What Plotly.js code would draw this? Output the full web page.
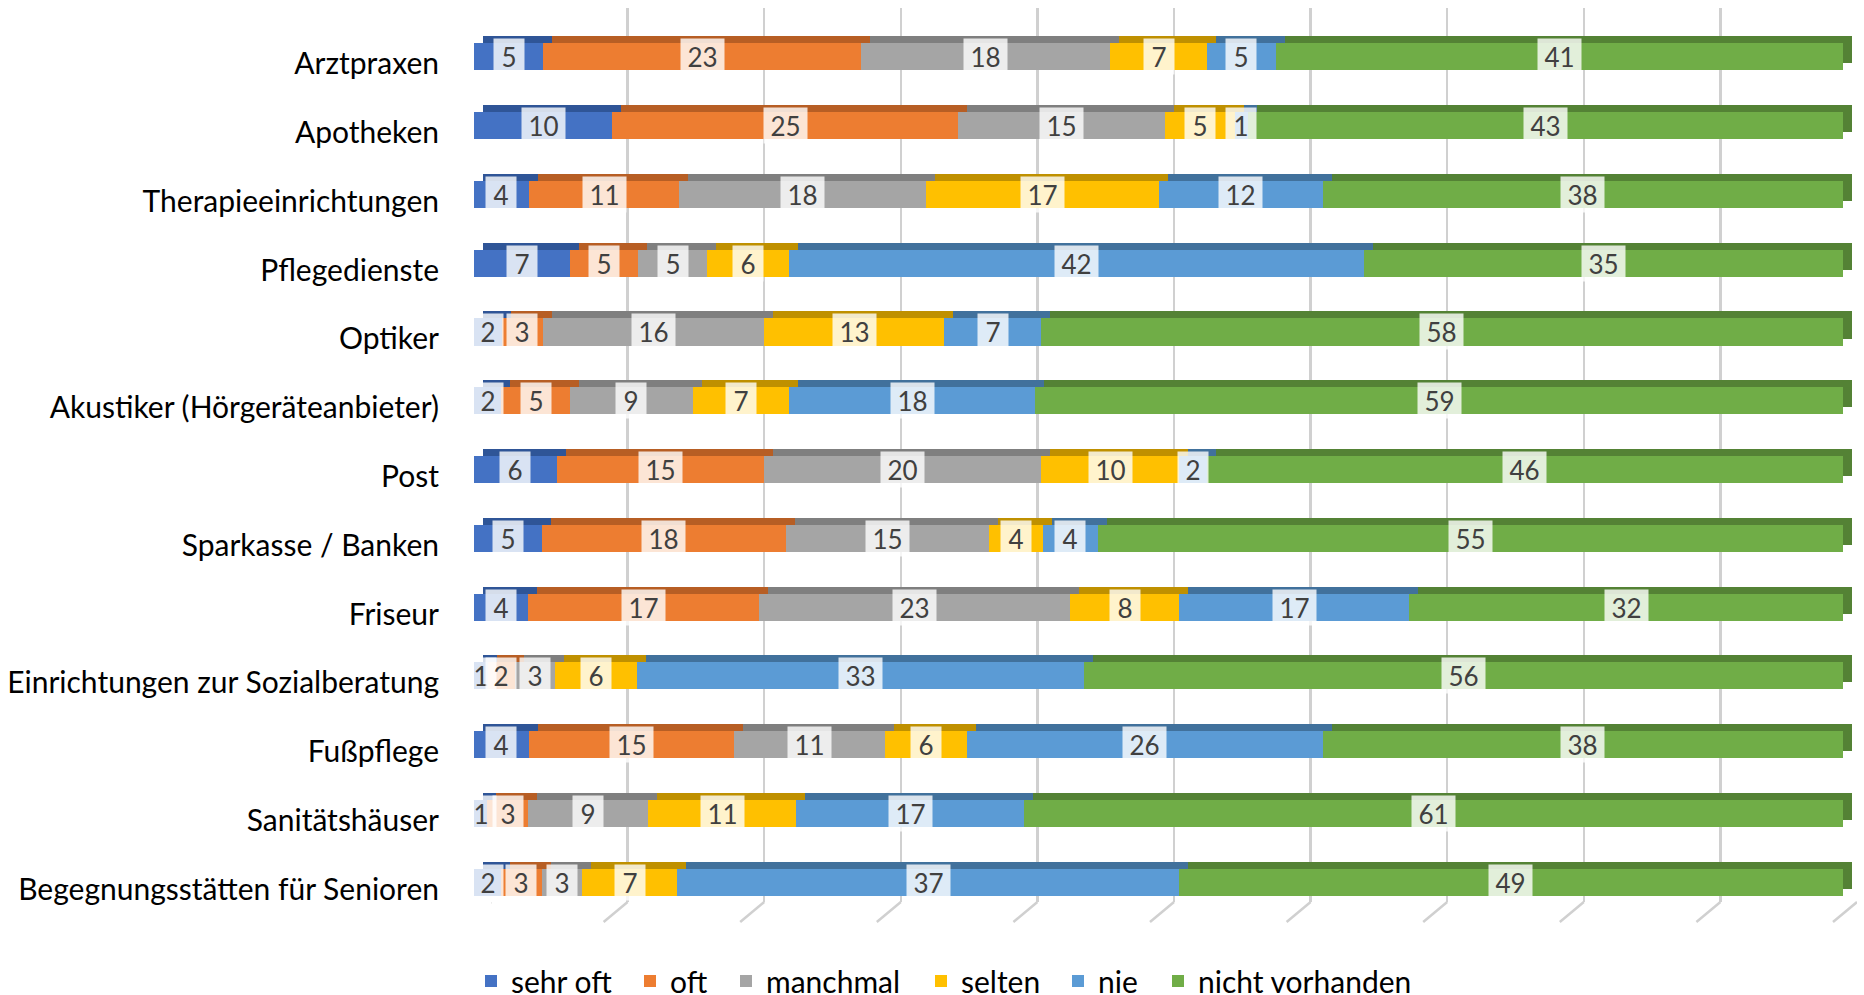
<!DOCTYPE html>
<html>
<head>
<meta charset="utf-8">
<script src="https://cdn.plot.ly/plotly-3.0.1.min.js"></script>
<style>html,body{margin:0;padding:0;background:#fff;overflow:hidden;}#chart{width:1864px;height:1012px;}</style>
</head>
<body>
<div id="chart"></div>
<script>
// ---- data ----
const categories = ["Arztpraxen","Apotheken","Therapieeinrichtungen","Pflegedienste","Optiker",
  "Akustiker (Hörgeräteanbieter)","Post","Sparkasse / Banken","Friseur",
  "Einrichtungen zur Sozialberatung","Fußpflege","Sanitätshäuser","Begegnungsstätten für Senioren"];
const seriesNames = ["sehr oft","oft","manchmal","selten","nie","nicht vorhanden"];
const sehrOft        = [5,10,4,7,2,2,6,5,4,1,4,1,2];
const oft            = [23,25,11,5,3,5,15,18,17,2,15,3,3];
const manchmal       = [18,15,18,5,16,9,20,15,23,3,11,9,3];
const selten         = [7,5,17,6,13,7,10,4,8,6,6,11,7];
const nie            = [5,1,12,42,7,18,2,4,17,33,26,17,37];
const nichtVorhanden = [41,43,38,35,58,59,46,55,32,56,38,61,49];
const gridTicks = [0,10,20,30,40,50,60,70,80,90,100];

// ---- styles ----
const seriesValues = [sehrOft, oft, manchmal, selten, nie, nichtVorhanden];
const frontColors = ["#4472C4","#ED7D31","#A5A5A5","#FFC000","#5B9BD5","#70AD47"];
const topColors   = ["#2F5597","#B75E24","#7F7F7F","#BF9000","#41719C","#548235"];
const legendTextStart = [511, 670, 766, 961, 1098, 1198]; // px positions of legend entries
const FONT = "Lato, 'Open Sans', sans-serif";
const W = 1864, H = 1012; // layout height slightly above the 995px viewport (overflow hidden)
const px = v => v / W, py = v => (H - v) / H;
const legendIds = ["legend","legend2","legend3","legend4","legend5","legend6"];

const traces = [];
// shadow (top/side faces) on x2/y2
seriesValues.forEach((vals, i) => {
  traces.push({
    type: "bar", orientation: "h", y: categories, x: vals,
    xaxis: "x2", yaxis: "y2", showlegend: false, hoverinfo: "skip",
    marker: {color: topColors[i], line: {width: 0}}
  });
});
// main front faces on x3/y3
seriesValues.forEach((vals, i) => {
  traces.push({
    type: "bar", orientation: "h", y: categories, x: vals, name: seriesNames[i],
    xaxis: "x3", yaxis: "y3", legend: legendIds[i],
    marker: {color: frontColors[i], line: {width: 0}}
  });
});

// data labels
const annotations = [];
categories.forEach((cat, r) => {
  const total = seriesValues.reduce((s, arr) => s + arr[r], 0);
  let cum = 0;
  seriesValues.forEach((arr, i) => {
    const v = arr[r];
    const mid = (cum + v / 2) / total * 100;
    cum += v;
    annotations.push({
      xref: "x3", yref: "y3", x: mid, y: cat, text: String(v), showarrow: false,
      font: {family: FONT, size: 26, color: "#404040"},
      bgcolor: "rgba(255,255,255,0.8)", borderpad: 0,
      width: String(v).length > 1 ? 43 : 30, height: 35, yshift: 0
    });
  });
});

// floor diagonals of the gridlines
const shapes = gridTicks.map(t => ({
  type: "line", layer: "below", xref: "x", xsizemode: "pixel", xanchor: t, x0: 0, x1: -24,
  yref: "paper", ysizemode: "pixel", yanchor: py(902), y0: 0, y1: -20,
  line: {color: "#d0d0d0", width: 2.5}
}));

const yMain = [py(916.4), py(22.6)];
const layout = {
  width: W, height: H,
  margin: {l: 0, r: 0, t: 0, b: 0},
  paper_bgcolor: "#fff", plot_bgcolor: "rgba(0,0,0,0)",
  barmode: "stack", barnorm: "percent", bargap: 0.607,
  font: {family: FONT, color: "#000"},
  showlegend: true,
  // grid subplot
  xaxis: {domain: [px(491), px(1857)], range: [0, 100], tickvals: gridTicks, showticklabels: false,
          showgrid: true, gridcolor: "#d0d0d0", gridwidth: 2.5, zeroline: false, showline: false,
          anchor: "y", fixedrange: true},
  yaxis: {domain: [py(902), py(8)], range: [0, 1], visible: false, showgrid: false, anchor: "x", fixedrange: true},
  // shadow subplot
  xaxis2: {domain: [px(483), px(1852)], range: [0, 100], visible: false, anchor: "y2", fixedrange: true},
  yaxis2: {domain: [yMain[0] + 7 / H, yMain[1] + 7 / H], type: "category", categoryarray: categories,
           range: [12.5, -0.5], visible: false, anchor: "x2", fixedrange: true},
  // main subplot
  xaxis3: {domain: [px(474), px(1843)], range: [0, 100], visible: false, anchor: "y3", fixedrange: true},
  yaxis3: {domain: yMain, type: "category", categoryarray: categories, range: [12.5, -0.5],
           anchor: "x3", showgrid: false, showline: false, zeroline: false, ticks: "",
           ticklabelstandoff: 34, ticklabelshift: -7,
           tickfont: {family: FONT, size: 30, color: "#000"}, fixedrange: true},
  annotations: annotations,
  shapes: shapes
};
legendIds.forEach((id, i) => {
  layout[id] = {orientation: "h", x: px(legendTextStart[i] - 40), xanchor: "left",
                y: py(1007), yanchor: "bottom", bgcolor: "rgba(0,0,0,0)", borderwidth: 0,
                font: {family: FONT, size: 30, color: "#000"}};
});

Plotly.newPlot("chart", traces, layout, {displayModeBar: false, staticPlot: true});
</script>
</body>
</html>
